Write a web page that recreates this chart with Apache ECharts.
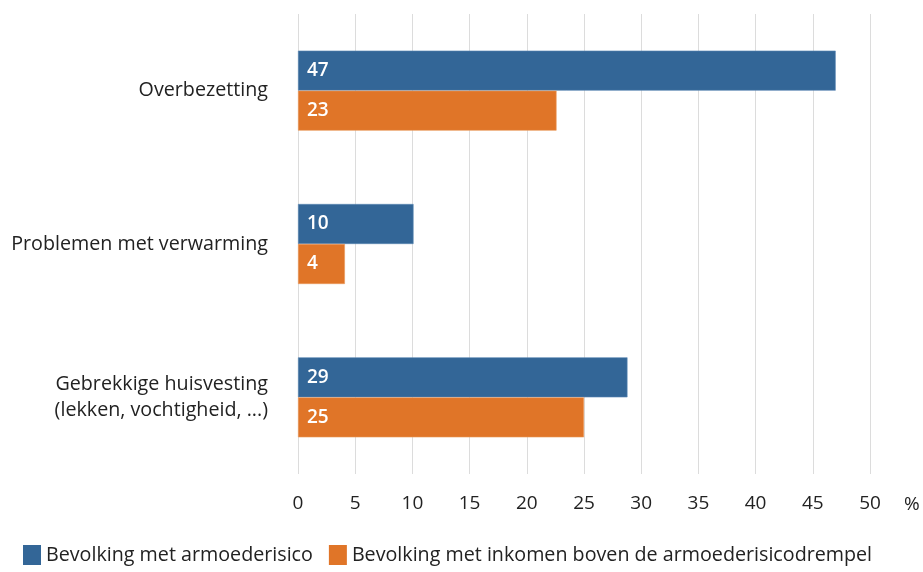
<!DOCTYPE html>
<html><head><meta charset="utf-8">
<script src="https://cdn.jsdelivr.net/npm/echarts@6/dist/echarts.min.js"></script>
<style>html,body{margin:0;padding:0;background:#fff}#c{width:923px;height:572px}</style>
</head><body><div id="c"></div>
<script>
const categories = ['Overbezetting', 'Problemen met verwarming', 'Gebrekkige huisvesting\n(lekken, vochtigheid, ...)'];
const seriesNames = ['Bevolking met armoederisico', 'Bevolking met inkomen boven de armoederisicodrempel'];
const armoede = [47.0, 10.1, 28.8];
const boven = [22.6, 4.1, 25.0];
const xTicks = [0, 5, 10, 15, 20, 25, 30, 35, 40, 45, 50];

const font = '"Open Sans", sans-serif';
const chart = echarts.init(document.getElementById('c'));
const labelCfg = {show: true, position: 'insideLeft', distance: 9, color: '#fff', fontSize: 19, fontWeight: 600, fontFamily: font, formatter: p => Math.round(p.value)};
chart.setOption({
  animation: false,
  grid: {left: 298, right: 53, top: 14, bottom: 98},
  legend: {
    left: 18, bottom: 2, itemWidth: 18, itemHeight: 20, itemGap: 16,
    icon: 'rect',
    itemStyle: {borderWidth: 0},
    textStyle: {fontSize: 19.7, color: '#222', fontFamily: font},
    data: seriesNames
  },
  xAxis: {
    type: 'value', min: xTicks[0], max: xTicks[xTicks.length - 1], interval: 5,
    name: '%', nameLocation: 'end', nameGap: 34,
    nameTextStyle: {fontSize: 19, color: '#222', fontFamily: font, verticalAlign: 'top', padding: [21, 0, 0, 0]},
    axisLine: {show: false}, axisTick: {show: false},
    axisLabel: {fontSize: 19, color: '#222', fontFamily: font, margin: 20},
    splitLine: {lineStyle: {color: '#dcdcdc', width: 1}}
  },
  yAxis: {
    type: 'category', inverse: true, data: categories,
    axisLine: {show: false}, axisTick: {show: false},
    axisLabel: {fontSize: 19.7, color: '#222', fontFamily: font, margin: 30, lineHeight: 26, align: 'right'}
  },
  series: [
    {name: seriesNames[0], type: 'bar', data: armoede, barWidth: 40, barGap: '0%',
     itemStyle: {color: '#336697', borderColor: '#5b86b3', borderWidth: 0.6}, label: labelCfg},
    {name: seriesNames[1], type: 'bar', data: boven, barWidth: 40, barGap: '0%',
     itemStyle: {color: '#e07528', borderColor: '#eb9a5c', borderWidth: 0.6}, label: labelCfg}
  ]
});
</script></body></html>
